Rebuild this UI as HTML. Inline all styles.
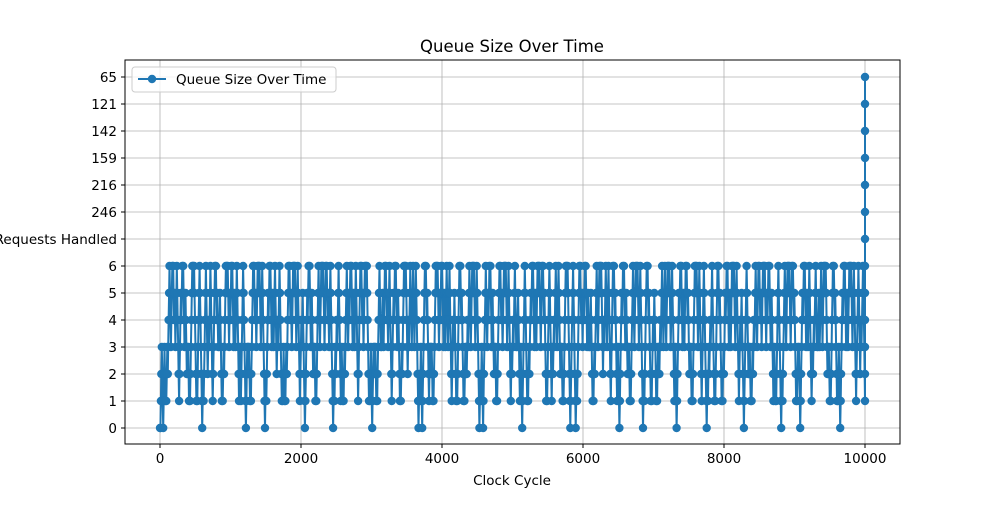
<!DOCTYPE html>
<html><head><meta charset="utf-8"><style>
body{margin:0;background:#fff}
svg text{font-family:"DejaVu Sans","Liberation Sans",sans-serif;fill:#000}
</style></head><body>
<svg id="chart" width="1000" height="500">
<rect width="1000" height="500" fill="#fff"/>
<text x="512" y="52" font-size="16.5" text-anchor="middle">Queue Size Over Time</text>
<g id="grid"></g>
<g id="series"></g>
<rect x="125" y="60" width="775" height="384" fill="none" stroke="#000" stroke-width="1"/>
<g id="axes"></g>
<text x="512" y="485" font-size="13.5" text-anchor="middle">Clock Cycle</text>
<g>
<rect x="132" y="67" width="204" height="25" rx="3" fill="#fff" fill-opacity="0.8" stroke="#ccc"/>
<line x1="138" y1="79" x2="166" y2="79" stroke="#1f77b4" stroke-width="2"/>
<circle cx="152" cy="79" r="4.2" fill="#1f77b4"/>
<text x="176" y="84" font-size="13.5">Queue Size Over Time</text>
</g>
</svg>
<script>
const categories=["0","1","2","3","4","5","6","Requests Handled","246","216","159","142","121","65"];
const xTicks=[0,2000,4000,6000,8000,10000];
const pieces={A:"456543",B:"4565654543",C:"210123",D:"212123",E:"45456565434543",F:"2343456543",G:"4565656543",H:"2123",I:"434543",J:"21212323",K:"2323212123",L:"4565432123",M:"45654321012123"};
const order="CJABLEKGDMAFHBIJGELHACKBGMEAFDJBGLICEKAGBMFHJAELBGDCKAIBLEJGFAMCBHKGEALIDBJFGMCAEKBGLFIHCAJEGBDLFAKGCMBEIJAGFLBHCEKAGMBDIJFAGLCEBKGAHMFDBJEGLICAKFBGEHDMAGBJCELFIAGKBDCEGLAF";
const seq="00123"+order.split("").map(k=>pieces[k]).join("");
const tailCats=["1","2","3","4","5","6","Requests Handled","246","216","159","142","121","65"];
const xVals=[],yVals=[];
for(let i=0;i<seq.length;i++){xVals.push(Math.round(i*9990/(seq.length-1)));yVals.push(seq[i]);}
tailCats.forEach(c=>{xVals.push(10000);yVals.push(c);});

const X=v=>160+(v/10000)*705;
const Y=c=>428-27*categories.indexOf(c);
const ns="http://www.w3.org/2000/svg";
const grid=document.getElementById('grid'),axes=document.getElementById('axes'),ser=document.getElementById('series');
function mk(t,a,p){const e=document.createElementNS(ns,t);for(const k in a)e.setAttribute(k,a[k]);p.appendChild(e);return e;}
xTicks.forEach(v=>{
 const g=mk('line',{x1:X(v),x2:X(v),y1:60,y2:444,stroke:'#b0b0b0','stroke-width':0.8},grid);
 
 
 mk('line',{x1:X(v),x2:X(v),y1:444,y2:448,stroke:'#000'},axes);
 const t=mk('text',{x:X(v),y:463,'font-size':13.5,'text-anchor':'middle'},axes);t.textContent=v;
 
 
});
categories.forEach(c=>{
 const g=mk('line',{x1:125,x2:900,y1:Y(c),y2:Y(c),stroke:'#b0b0b0','stroke-width':0.8},grid);
 
 
 mk('line',{x1:121,x2:125,y1:Y(c),y2:Y(c),stroke:'#000'},axes);
 const t=mk('text',{x:117,y:Y(c)+5,'font-size':13.5,'text-anchor':'end'},axes);t.textContent=c;
 
 
});
let d='';xVals.forEach((x,i)=>{d+=(i?'L':'M')+X(x).toFixed(1)+' '+Y(yVals[i])+' ';});
const p=mk('path',{d:d,fill:'none',stroke:'#1f77b4','stroke-width':2},ser);


xVals.forEach((x,i)=>{
 const c=mk('circle',{cx:X(x).toFixed(1),cy:Y(yVals[i]),r:4.2,fill:'#1f77b4'},ser);
 
 
});
</script>
</body></html>
